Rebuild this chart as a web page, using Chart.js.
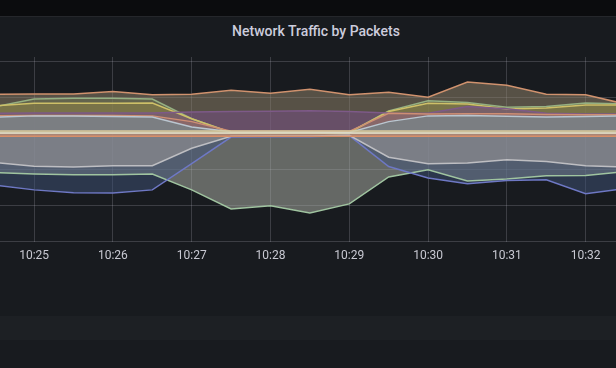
<!DOCTYPE html>
<html>
<head>
<meta charset="utf-8">
<script src="https://cdn.jsdelivr.net/npm/chart.js@4.4.1/dist/chart.umd.min.js"></script>
<style>
  html, body { margin: 0; padding: 0; background: #181b1f; }
  body { width: 616px; height: 368px; position: relative; overflow: hidden; font-family: Roboto, "Noto Sans", sans-serif; }
  #topbar { position: absolute; left: 0; top: 0; width: 616px; height: 16px; background: #0b0c0e; border-bottom: 1px solid #25272b; }
  #title { position: absolute; left: 0; width: 632px; top: 23px; text-align: center; color: #ccccdc; font-size: 14px; font-weight: 500; line-height: 16px; }
  #band { position: absolute; left: 0; top: 316px; width: 616px; height: 24px; background: #1d2024; }
  #chart { position: absolute; left: 0; top: 0; }
</style>
</head>
<body>
<div id="topbar"></div>
<div id="title">Network Traffic by Packets</div>
<div id="band"></div>
<canvas id="chart" width="616" height="368"></canvas>
<script>
// minutes after 10:00, one sample every 30s
const times = [24.5, 25, 25.5, 26, 26.5, 27, 27.5, 28, 28.5, 29, 29.5, 30, 30.5, 31, 31.5, 32, 32.5];

// received (positive side)
const rxOrange = [1.10, 1.11, 1.11, 1.18, 1.09, 1.10, 1.21, 1.13, 1.24, 1.09, 1.16, 1.02, 1.44, 1.35, 1.10, 1.09, 0.83];
const rxGreen  = [0.75, 0.97, 0.99, 0.99, 0.97, 0.42, 0.04, 0.04, 0.04, 0.04, 0.64, 0.92, 0.87, 0.74, 0.76, 0.86, 0.83];
const rxYellow = [0.78, 0.85, 0.85, 0.85, 0.86, 0.42, 0.04, 0.04, 0.04, 0.04, 0.62, 0.85, 0.83, 0.69, 0.72, 0.80, 0.80];
const rxPurple = [0.57, 0.58, 0.58, 0.58, 0.58, 0.61, 0.62, 0.63, 0.64, 0.62, 0.58, 0.57, 0.76, 0.70, 0.57, 0.55, 0.55];
const rxSalmon = [0.50, 0.51, 0.51, 0.51, 0.50, 0.34, 0.07, 0.07, 0.07, 0.07, 0.57, 0.55, 0.56, 0.56, 0.54, 0.53, 0.53];
const rxLight  = [0.46, 0.50, 0.50, 0.48, 0.47, 0.19, 0.06, 0.05, 0.05, 0.04, 0.34, 0.50, 0.51, 0.49, 0.47, 0.48, 0.50];
const rxBeige  = [0.08, 0.08, 0.08, 0.08, 0.08, 0.08, 0.08, 0.08, 0.08, 0.08, 0.08, 0.08, 0.08, 0.08, 0.08, 0.08, 0.08];
const rxCream  = [0.02, 0.02, 0.02, 0.02, 0.02, 0.02, 0.02, 0.02, 0.02, 0.02, 0.02, 0.02, 0.02, 0.02, 0.02, 0.02, 0.02];

// transmitted (negative side)
const txOrange = [-0.07, -0.07, -0.07, -0.07, -0.07, -0.07, -0.07, -0.07, -0.07, -0.07, -0.07, -0.07, -0.07, -0.07, -0.07, -0.07, -0.07];
const txWhite  = [-0.80, -0.90, -0.92, -0.89, -0.89, -0.40, -0.07, -0.06, -0.06, -0.04, -0.65, -0.83, -0.81, -0.72, -0.77, -0.89, -0.92];
const txBlue   = [-1.43, -1.56, -1.64, -1.65, -1.56, -0.83, -0.09, -0.08, -0.08, -0.05, -0.91, -1.23, -1.39, -1.30, -1.28, -1.67, -1.52];
const txGreen  = [-1.08, -1.12, -1.14, -1.14, -1.12, -1.56, -2.09, -2.00, -2.20, -1.95, -1.20, -1.00, -1.31, -1.26, -1.17, -1.16, -1.05];

const xTicks = [25, 26, 27, 28, 29, 30, 31, 32];

function series(values, line, fill) {
  return {
    data: values.map((v, i) => ({ x: times[i], y: v })),
    borderColor: line,
    backgroundColor: fill,
    borderWidth: 1.5,
    fill: "origin",
    pointRadius: 0,
    tension: 0,
  };
}

// first dataset is drawn on top
const datasets = [
  series(rxCream, "rgb(230,222,196)", "rgba(230,222,196,0.5)"),
  series(rxBeige, "rgb(216,202,156)", "rgba(216,202,156,0.5)"),
  series(rxLight, "rgb(186,198,208)", "rgba(111,150,156,0.5)"),
  series(rxSalmon, "rgb(206,142,116)", "rgba(200,130,110,0.2)"),
  series(rxPurple, "rgb(126,90,136)", "rgba(120,78,138,0.5)"),
  series(rxYellow, "rgb(206,192,104)", "rgba(144,130,68,0.5)"),
  series(rxGreen, "rgb(150,176,130)", "rgba(112,119,86,0.5)"),
  series(rxOrange, "rgb(208,146,110)", "rgba(150,136,110,0.5)"),
  series(txOrange, "rgb(216,142,104)", "rgba(216,142,104,0.5)"),
  series(txWhite, "rgb(190,190,194)", "rgba(164,160,158,0.5)"),
  series(txBlue, "rgb(110,120,196)", "rgba(64,84,122,0.5)"),
  series(txGreen, "rgb(160,196,160)", "rgba(178,181,172,0.5)"),
];

const gridColor = "rgba(204,204,220,0.2)";

new Chart(document.getElementById("chart"), {
  type: "line",
  data: { datasets },
  options: {
    responsive: false,
    animation: false,
    devicePixelRatio: 1,
    layout: { padding: { top: 57, bottom: 98, left: 0, right: 0 } },
    plugins: {
      legend: { display: false },
      tooltip: { enabled: false },
      filler: { drawTime: "beforeDatasetsDraw" },
    },
    scales: {
      x: {
        type: "linear",
        min: 24.567,
        max: 32.385,
        z: 1,
        border: { display: false },
        grid: { color: gridColor, drawTicks: false },
        afterBuildTicks: (axis) => { axis.ticks = xTicks.map((v) => ({ value: v })); },
        ticks: {
          padding: 7,
          color: "#c8c9d2",
          font: { family: "Roboto", size: 12 },
          callback: (v) => "10:" + v,
          maxRotation: 0,
        },
      },
      y: {
        type: "linear",
        min: -3,
        max: 2.139,
        z: 1,
        border: { display: false },
        grid: { color: gridColor, drawTicks: false },
        ticks: { display: false, stepSize: 1, includeBounds: false },
      },
    },
  },
});
</script>
</body>
</html>
